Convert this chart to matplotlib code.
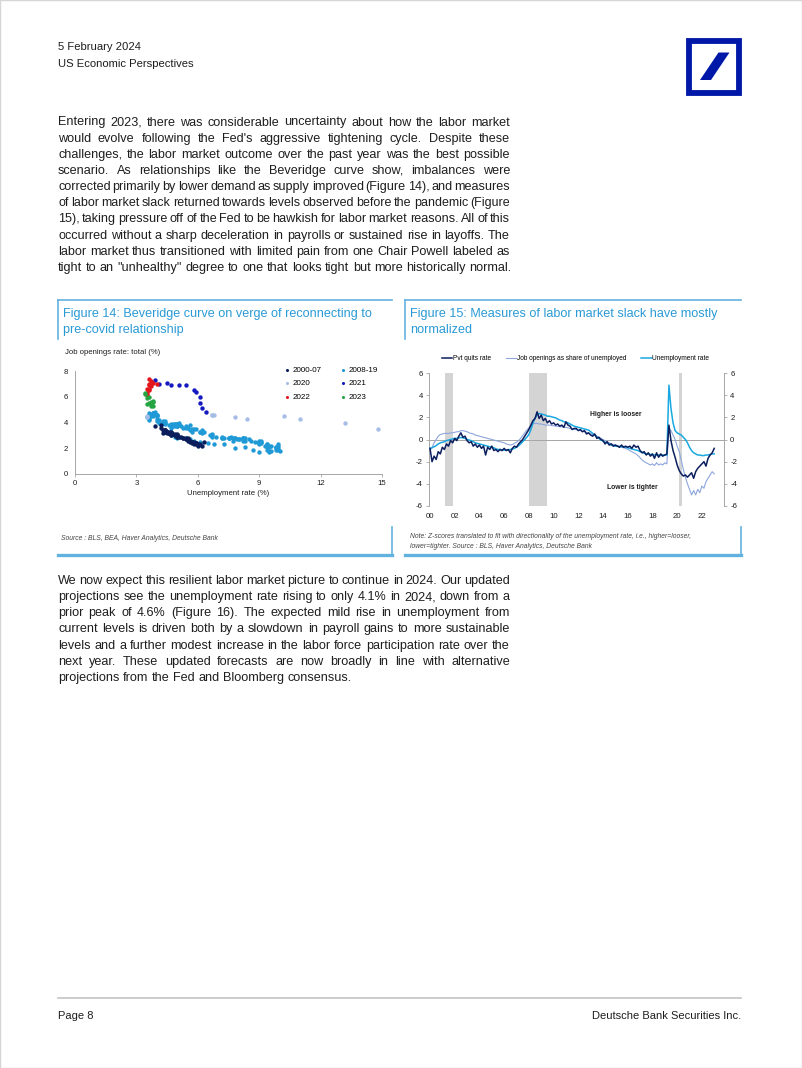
import numpy as np
import matplotlib
matplotlib.use("Agg")
import matplotlib.pyplot as plt
from matplotlib.patches import Rectangle, Polygon
from matplotlib.lines import Line2D

plt.rcParams["axes.unicode_minus"] = False

W, H = 802, 1068
fig = plt.figure(figsize=(W / 100, H / 100), dpi=100)

def fx(x):
    return x / W

def fy(y):
    return 1 - y / H

BODY = ["Liberation Sans", "DejaVu Sans"]
INK = "#1e1e1e"
BLUE_T = "#2a9ad6"
BOX = "#62b2df"
GREY = "#a6a6a6"

# ---------------- data: figure 14 (Beveridge curve) ----------------
u_0007 = [3.9, 4.2, 4.2, 4.3, 4.4, 4.3, 4.5, 4.6, 4.7, 4.9, 5.0, 5.3, 5.6, 5.7,
          5.7, 5.9, 5.8, 5.8, 5.9, 6.0, 5.9, 6.0, 6.1, 6.2, 6.3, 6.0, 5.9, 5.8, 5.7,
          5.7, 5.6, 5.6, 5.5, 5.5, 5.4, 5.5, 5.4,
          5.3, 5.4, 5.2, 5.1, 5.0, 5.0, 4.9, 4.9, 5.0, 4.9,
          4.7, 4.8, 4.7, 4.7, 4.6, 4.6, 4.7, 4.7, 4.5, 4.4, 4.5, 4.4,
          4.6, 4.5, 4.4, 4.5, 4.4, 4.6, 4.7, 4.6, 4.7, 4.7, 4.7, 5.0]
v_0007 = [3.7, 3.8, 3.6, 3.4, 3.3, 3.2, 3.3, 3.2, 3.1, 3.0, 2.9, 2.8, 2.6, 2.5,
          2.5, 2.4, 2.4, 2.5, 2.3, 2.3, 2.4, 2.2, 2.3, 2.2, 2.5, 2.3, 2.4, 2.3, 2.4,
          2.5, 2.5, 2.6, 2.7, 2.6, 2.7, 2.8, 2.7,
          2.8, 2.8, 2.9, 2.9, 3.0, 3.0, 3.0, 3.0, 3.1, 3.1,
          3.1, 3.1, 3.2, 3.2, 3.3, 3.2, 3.3, 3.3, 3.3, 3.4, 3.3, 3.4,
          3.2, 3.3, 3.4, 3.2, 3.3, 3.2, 3.1, 3.2, 3.0, 3.1, 3.0, 2.9]

u_0819 = [5.0, 4.9, 5.1, 5.0, 5.4, 5.6, 5.8, 6.1, 6.1, 6.5, 6.8, 7.3,
          7.8, 8.3, 8.7, 9.0, 9.4, 9.5, 9.5, 9.6, 9.8, 10.0, 9.9, 9.9,
          9.8, 9.8, 9.9, 9.9, 9.6, 9.4, 9.4, 9.5, 9.5, 9.4, 9.8, 9.3,
          9.1, 9.0, 9.0, 9.1, 9.0, 9.1, 9.0, 9.0, 9.0, 8.8, 8.6, 8.5,
          8.3, 8.3, 8.2, 8.2, 8.2, 8.2, 8.2, 8.0, 7.8, 7.8, 7.7, 7.9,
          8.0, 7.7, 7.5, 7.6, 7.5, 7.5, 7.3, 7.2, 7.2, 7.2, 6.9, 6.7,
          6.6, 6.7, 6.7, 6.2, 6.3, 6.1, 6.2, 6.1, 5.9, 5.7, 5.8, 5.6,
          5.7, 5.5, 5.4, 5.4, 5.6, 5.3, 5.2, 5.1, 5.0, 5.0, 5.1, 5.0,
          4.9, 4.9, 5.0, 5.1, 4.8, 4.9, 4.8, 4.9, 5.0, 4.9, 4.7, 4.7,
          4.7, 4.6, 4.4, 4.4, 4.4, 4.3, 4.3, 4.4, 4.3, 4.2, 4.2, 4.1,
          4.0, 4.1, 4.0, 4.0, 3.8, 4.0, 3.8, 3.8, 3.7, 3.8, 3.8, 3.9,
          4.0, 3.8, 3.8, 3.6, 3.6, 3.6, 3.7, 3.6, 3.5, 3.6, 3.6, 3.6]
v_0819 = [3.0, 2.9, 2.9, 2.8, 2.8, 2.7, 2.6, 2.5, 2.4, 2.4, 2.3, 2.3,
          2.0, 2.1, 1.9, 1.7, 1.9, 1.8, 1.7, 1.8, 1.9, 1.8, 1.9, 2.0,
          2.1, 2.0, 2.2, 2.3, 2.2, 2.1, 2.3, 2.2, 2.1, 2.3, 2.1, 2.2,
          2.4, 2.3, 2.4, 2.5, 2.5, 2.6, 2.5, 2.4, 2.6, 2.5, 2.6, 2.7,
          2.8, 2.6, 2.8, 2.8, 2.7, 2.6, 2.8, 2.7, 2.8, 2.8, 2.6, 2.7,
          2.7, 2.8, 2.8, 2.9, 2.8, 2.8, 2.8, 2.9, 2.8, 2.8, 2.9, 2.9,
          3.0, 3.1, 3.0, 3.2, 3.3, 3.3, 3.4, 3.3, 3.5, 3.3, 3.5, 3.4,
          3.5, 3.6, 3.6, 3.7, 3.8, 3.6, 3.7, 3.8, 3.7, 3.7, 3.8, 3.7,
          3.9, 3.8, 3.9, 4.0, 3.7, 3.7, 3.9, 3.9, 3.9, 3.8, 3.9, 3.6,
          3.8, 3.8, 4.0, 3.9, 4.1, 4.0, 4.0, 4.0, 4.1, 4.0, 3.9, 4.0,
          4.1, 4.2, 4.3, 4.5, 4.5, 4.6, 4.7, 4.6, 4.6, 4.7, 4.6, 4.8,
          4.6, 4.6, 4.7, 4.6, 4.7, 4.5, 4.5, 4.6, 4.4, 4.4, 4.3, 4.2]

u_2020 = [3.5, 3.5, 14.8, 13.2, 11.0, 10.2, 8.4, 7.8, 6.8, 6.7, 6.7]
v_2020 = [4.5, 4.4, 3.5, 4.0, 4.3, 4.5, 4.3, 4.4, 4.6, 4.6, 4.6]
u_2021 = [6.4, 6.2, 6.1, 6.1, 5.8, 5.9, 5.4, 5.1, 4.7, 4.5, 4.1, 3.9]
v_2021 = [4.8, 5.1, 5.5, 6.0, 6.5, 6.4, 6.9, 6.9, 6.9, 7.1, 7.0, 7.3]
u_2022 = [4.0, 3.8, 3.6, 3.7, 3.6, 3.6, 3.5, 3.7, 3.5, 3.6, 3.6, 3.5]
v_2022 = [7.0, 7.1, 7.4, 7.2, 7.0, 6.9, 6.6, 6.8, 6.3, 6.6, 6.5, 6.1]
u_2023 = [3.4, 3.6, 3.5, 3.4, 3.7, 3.6, 3.5, 3.8, 3.8, 3.8, 3.7, 3.7]
v_2023 = [6.3, 6.0, 5.9, 6.2, 5.6, 5.5, 5.4, 5.6, 5.7, 5.3, 5.3, 5.4]

# ---------------- data: figure 15 (z-scores, 2-month steps from '00) ----------------
quits = [-0.8, -2.0, -1.5, -1.8, -1.1, -1.3,
         -0.7, -0.9, -0.4, -0.6, -0.1, -0.3,
         0.1, -0.1, 0.3, 0.6, 0.2, 0.3,
         -0.1, -0.3, -0.2, -0.6, -0.4, -0.7,
         -0.5, -0.8, -0.6, -1.4, -0.7, -0.9,
         -0.6, -1.0, -0.9, -1.1, -0.9, -1.0,
         -0.8, -1.0, -0.9, -1.2, -0.8, -0.6,
         -0.7, -0.4, -0.2, 0.0, 0.3, 0.6,
         0.9, 1.3, 1.7, 1.9, 2.5, 1.9,
         2.2, 1.7, 1.9, 1.5, 1.7, 1.4,
         1.5, 1.3, 1.4, 1.2, 1.3, 1.1,
         1.6, 1.3, 1.2, 0.9, 1.0, 1.0,
         0.8, 0.9, 0.7, 0.8, 0.5, 0.6,
         0.4, 0.3, 0.5, 0.1, 0.2, 0.0,
         -0.1, -0.4, -0.2, -0.5, -0.4, -0.6,
         -0.5, -0.6, -0.7, -0.5, -0.7, -0.6,
         -0.7, -0.6, -0.8, -0.5, -0.7, -0.6,
         -1.0, -1.2, -1.1, -1.4, -1.2, -1.5,
         -1.3, -1.7, -1.2, -1.6, -1.3, -1.5,
         -1.4, -1.3,
         1.3, -0.1, -1.0, -1.6, -2.3, -2.8,
         -3.1, -3.3, -3.2, -3.4, -3.2, -3.0,
         -3.5, -2.9, -2.6, -2.4, -2.2, -2.0,
         -2.4, -1.7, -1.4, -1.2, -0.8]
openings = [-1.0, -0.7, -0.3, 0.0, 0.3, 0.45,
            0.5, 0.55, 0.55, 0.55, 0.6, 0.6,
            0.65, 0.7, 0.7, 0.8, 0.8, 0.75,
            0.7, 0.6, 0.55, 0.5, 0.4, 0.35,
            0.3, 0.25, 0.2, 0.15, 0.1, 0.05,
            0.0, -0.05, -0.1, -0.15, -0.2, -0.25,
            -0.3, -0.4, -0.45, -0.5, -0.45, -0.35,
            -0.25, -0.1, 0.1, 0.35, 0.6, 0.85,
            1.05, 1.25, 1.4, 1.45, 1.45, 1.4,
            1.4, 1.35, 1.3, 1.3, 1.3, 1.25,
            1.25, 1.2, 1.2, 1.15, 1.15, 1.1,
            1.1, 1.05, 1.0, 0.95, 0.9, 0.9,
            0.85, 0.8, 0.75, 0.7, 0.65, 0.6,
            0.5, 0.45, 0.4, 0.3, 0.2, 0.1,
            0.0, -0.1, -0.2, -0.3, -0.4, -0.45,
            -0.5, -0.55, -0.6, -0.7, -0.75, -0.8,
            -0.9, -1.0, -1.1, -1.2, -1.3, -1.45,
            -1.65, -1.85, -2.0, -2.1, -2.2, -2.3,
            -2.2, -2.35, -2.1, -2.3, -2.2, -2.3,
            -2.1, -2.2,
            1.0, 0.8, 0.4, 0.0, -0.6, -1.1,
            -1.9, -2.7, -3.4, -4.0, -4.5, -5.0,
            -4.6, -5.0, -4.5, -4.8, -4.2, -4.4,
            -3.8, -3.5, -3.2, -2.9, -3.1]
unemp = [-0.8, -0.75, -0.65, -0.55, -0.4, -0.3,
         -0.25, -0.2, -0.1, -0.05, 0.0, 0.05,
         0.1, 0.1, 0.15, 0.18, 0.15, 0.1,
         0.0, -0.05, -0.1, -0.2, -0.3, -0.35,
         -0.4, -0.45, -0.5, -0.55, -0.6, -0.65,
         -0.7, -0.75, -0.85, -0.9, -0.9, -0.95,
         -0.95, -0.95, -0.95, -0.9, -0.85, -0.8,
         -0.7, -0.55, -0.4, -0.2, 0.0, 0.2,
         0.45, 0.9, 1.5, 1.9, 2.2, 2.35,
         2.3, 2.25, 2.2, 2.1, 2.1, 2.05,
         2.0, 1.95, 1.85, 1.75, 1.7, 1.6,
         1.55, 1.5, 1.4, 1.3, 1.2, 1.15,
         1.1, 1.05, 1.0, 0.95, 0.9, 0.85,
         0.7, 0.55, 0.4, 0.25, 0.1, -0.05,
         -0.15, -0.25, -0.3, -0.4, -0.5, -0.55,
         -0.6, -0.6, -0.65, -0.65, -0.65, -0.7,
         -0.75, -0.8, -0.85, -0.9, -0.95, -1.0,
         -1.1, -1.15, -1.25, -1.3, -1.3, -1.35,
         -1.35, -1.4, -1.4, -1.4, -1.45, -1.4,
         -1.4, -1.4,
         4.9, 2.8, 1.5, 0.8, 0.6, 0.5,
         0.4, 0.2, 0.0, -0.3, -0.7, -1.0,
         -1.2, -1.3, -1.4, -1.4, -1.45, -1.45,
         -1.4, -1.4, -1.35, -1.3, -1.3]
recessions = [(2001.21, 2001.86), (2008.01, 2009.47), (2020.18, 2020.36)]
year_ticks = list(range(2000, 2023, 2))

# ---------------- page text ----------------
para1 = [
    "Entering 2023, there was considerable uncertainty about how the labor market",
    "would evolve following the Fed's aggressive tightening cycle. Despite these",
    "challenges, the labor market outcome over the past year was the best possible",
    "scenario. As relationships like the Beveridge curve show, imbalances were",
    "corrected primarily by lower demand as supply improved (Figure 14), and measures",
    "of labor market slack returned towards levels observed before the pandemic (Figure",
    "15), taking pressure off of the Fed to be hawkish for labor market reasons. All of this",
    "occurred without a sharp deceleration in payrolls or sustained rise in layoffs. The",
    "labor market thus transitioned with limited pain from one Chair Powell labeled as",
    "tight to an \"unhealthy\" degree to one that looks tight but more historically normal.",
]
para2 = [
    "We now expect this resilient labor market picture to continue in 2024. Our updated",
    "projections see the unemployment rate rising to only 4.1% in 2024, down from a",
    "prior peak of 4.6% (Figure 16). The expected mild rise in unemployment from",
    "current levels is driven both by a slowdown in payroll gains to more sustainable",
    "levels and a further modest increase in the labor force participation rate over the",
    "next year. These updated forecasts are now broadly in line with alternative",
    "projections from the Fed and Bloomberg consensus.",
]

renderer = fig.canvas.get_renderer()


def paragraph(lines, x0, x1, base, step, size=9.1):
    for i, line in enumerate(lines):
        y = fy(base + i * step)
        last = i == len(lines) - 1
        words = line.split(" ")
        sz = size
        while True:
            items = [fig.text(0, 0, w, fontsize=sz, family=BODY, color=INK, va="baseline") for w in words]
            widths = [t.get_window_extent(renderer).width for t in items]
            natural = sz * 100 / 72 * 0.278
            need = sum(widths) + natural * 0.55 * (len(words) - 1)
            if need <= (x1 - x0) or sz < 8.0:
                break
            for t in items:
                t.remove()
            sz -= 0.1
        if last:
            gap = natural
        else:
            gap = (x1 - x0 - sum(widths)) / (len(words) - 1)
        x = x0
        for t, w in zip(items, widths):
            t.set_position((fx(x), y))
            x += w + gap


# header
fig.text(fx(58), fy(50), "5 February 2024", fontsize=8.1, family=BODY, color=INK, va="baseline")
fig.text(fx(58), fy(67), "US Economic Perspectives", fontsize=8.1, family=BODY, color=INK, va="baseline")

# logo
fig.patches.append(Rectangle((fx(688.5), fy(93)), fx(50), 52 / H, fill=False, ec="#0018a8",
                             lw=4.2, transform=fig.transFigure))
fig.patches.append(Polygon([(fx(700), fy(80)), (fx(711), fy(80)), (fx(729.5), fy(52.5)), (fx(718.5), fy(52.5))],
                           closed=True, fc="#0018a8", ec="none", transform=fig.transFigure))

paragraph(para1, 58, 510, 125.5, 16.15)
paragraph(para2, 58, 510, 584, 16.15)

# figure boxes
for (a, b) in [(58, 392), (405, 741)]:
    fig.add_artist(Line2D([fx(a), fx(b)], [fy(300), fy(300)], color=BOX, lw=1.2))
    fig.add_artist(Line2D([fx(a), fx(a)], [fy(300), fy(339)], color=BOX, lw=1.2))
    fig.add_artist(Line2D([fx(a), fx(b)], [fy(555), fy(555)], color=BOX, lw=2.4))
    fig.add_artist(Line2D([fx(b), fx(b)], [fy(527), fy(555)], color=BOX, lw=1.2))

fig.text(fx(63), fy(317), "Figure 14: Beveridge curve on verge of reconnecting to", fontsize=9.1,
         family=BODY, color=BLUE_T, va="baseline")
fig.text(fx(63), fy(333), "pre-covid relationship", fontsize=9.1, family=BODY, color=BLUE_T, va="baseline")
fig.text(fx(410), fy(317), "Figure 15: Measures of labor market slack have mostly", fontsize=9.1,
         family=BODY, color=BLUE_T, va="baseline")
fig.text(fx(410), fy(333), "normalized", fontsize=9.1, family=BODY, color=BLUE_T, va="baseline")

fig.text(fx(61), fy(539.5), "Source : BLS, BEA, Haver Analytics, Deutsche Bank", fontsize=4.9,
         family=BODY, style="italic", color="#444444", va="baseline")
fig.text(fx(410), fy(538.5), "Note: Z-scores translated to fit with directionality of the unemployment rate, i.e., higher=looser,",
         fontsize=4.9, family=BODY, style="italic", color="#444444", va="baseline")
fig.text(fx(410), fy(548.5), "lower=tighter. Source : BLS, Haver Analytics, Deutsche Bank",
         fontsize=4.9, family=BODY, style="italic", color="#444444", va="baseline")

# ---------------- figure 14 ----------------
ax1 = fig.add_axes([fx(75), fy(474), fx(382) - fx(75), fy(371) - fy(474)])
ax1.scatter(u_0819, v_0819, s=10, color="#1f9ad6", lw=0, label="2008-19", zorder=2)
ax1.scatter(u_0007, v_0007, s=10, color="#0b1e5b", lw=0, label="2000-07", zorder=3)
ax1.scatter(u_2020, v_2020, s=10, color="#a6bee6", lw=0, label="2020", zorder=3)
ax1.scatter(u_2021, v_2021, s=10, color="#1419c0", lw=0, label="2021", zorder=3)
ax1.scatter(u_2022, v_2022, s=10, color="#e3141b", lw=0, label="2022", zorder=4)
ax1.scatter(u_2023, v_2023, s=10, color="#24a542", lw=0, label="2023", zorder=4)
ax1.set_xlim(0, 15)
ax1.set_ylim(0, 8)
ax1.set_xticks([0, 3, 6, 9, 12, 15])
ax1.set_yticks([0, 2, 4, 6, 8])
for s in ["top", "right"]:
    ax1.spines[s].set_visible(False)
for s in ["left", "bottom"]:
    ax1.spines[s].set_color(GREY)
    ax1.spines[s].set_linewidth(0.7)
ax1.tick_params(labelsize=5.6, colors=GREY, labelcolor=INK, length=2, width=0.6, pad=2.5)
ax1.tick_params(axis="y", length=0, pad=5)
for t in ax1.get_xticklabels() + ax1.get_yticklabels():
    t.set_family(BODY)
ax1.set_xlabel("Unemployment rate (%)", fontsize=5.6, family=BODY, color=INK, labelpad=2)
fig.text(fx(65), fy(354.5), "Job openings rate: total (%)", fontsize=5.6, family=BODY, color=INK, va="baseline")
h, l = ax1.get_legend_handles_labels()
order = [1, 2, 4, 0, 3, 5]
ax1.legend([h[i] for i in order], [l[i] for i in order], ncol=2, loc="upper left",
           bbox_to_anchor=(fx(284), fy(366)), bbox_transform=fig.transFigure,
           frameon=False, borderpad=0, borderaxespad=0,
           handlelength=0.7, handletextpad=0.35, columnspacing=2.3, labelspacing=0.75,
           markerscale=0.7, prop={"family": BODY, "size": 5.8})

# ---------------- figure 15 ----------------
t = 2000 + np.arange(len(unemp)) / 6
ax2 = fig.add_axes([fx(429), fy(506), fx(724) - fx(429), fy(373) - fy(506)])
for a, b in recessions:
    ax2.axvspan(a, b, color="#d4d4d4", lw=0, zorder=0)
ax2.axhline(0, color=GREY, lw=0.7, zorder=1)
ax2.plot(t, openings, color="#8da6dd", lw=0.8, label="Job openings as share of unemployed", zorder=2)
ax2.plot(t, unemp, color="#19a8e0", lw=1.1, label="Unemployment rate", zorder=3)
ax2.plot(t, quits, color="#0c1e5e", lw=1.1, label="Pvt quits rate", zorder=4)
ax2.set_xlim(1999.92, 2023.79)
ax2.set_ylim(-6, 6)
ax2.set_yticks([-6, -4, -2, 0, 2, 4, 6])
ax2.set_xticks(year_ticks)
ax2.set_xticklabels(["%02d" % (y % 100) for y in year_ticks])
for s in ["top", "bottom"]:
    ax2.spines[s].set_visible(False)
for s in ["left", "right"]:
    ax2.spines[s].set_color(GREY)
    ax2.spines[s].set_linewidth(0.7)
ax2.tick_params(axis="x", length=0, pad=5, labelsize=5.6, labelcolor=INK)
ax2.tick_params(axis="y", length=2, width=0.6, colors=GREY, labelcolor=INK, pad=2.5, labelsize=5.6,
                right=True, labelright=True)
for tl in ax2.get_xticklabels() + ax2.get_yticklabels():
    tl.set_family(BODY)
ax2.text(2015.0, 2.3, "Higher is looser", fontsize=4.9, family=BODY, weight="bold", color=INK,
         ha="center", va="center")
ax2.text(2016.35, -4.35, "Lower is tighter", fontsize=4.9, family=BODY, weight="bold", color=INK,
         ha="center", va="center")
h2, l2 = ax2.get_legend_handles_labels()
ax2.legend([h2[2], h2[0], h2[1]], [l2[2], l2[0], l2[1]], ncol=3, loc="center left",
           bbox_to_anchor=(fx(442), fy(359)), bbox_transform=fig.transFigure, frameon=False,
           borderpad=0, borderaxespad=0, handlelength=1.6, handletextpad=0.05, columnspacing=2.3,
           prop={"family": BODY, "size": 4.7})

# footer
fig.add_artist(Line2D([fx(58), fx(741)], [fy(998), fy(998)], color="#c4c4c4", lw=1.2))
fig.text(fx(58), fy(1019), "Page 8", fontsize=8.0, family=BODY, color=INK, va="baseline")
fig.text(fx(741), fy(1019), "Deutsche Bank Securities Inc.", fontsize=8.0, family=BODY, color=INK,
         va="baseline", ha="right")
fig.patches.append(Rectangle((0, 0), 1, 1, fill=False, ec="#d6d6d6", lw=1.0, transform=fig.transFigure))

fig.savefig("out.png", dpi=100)
